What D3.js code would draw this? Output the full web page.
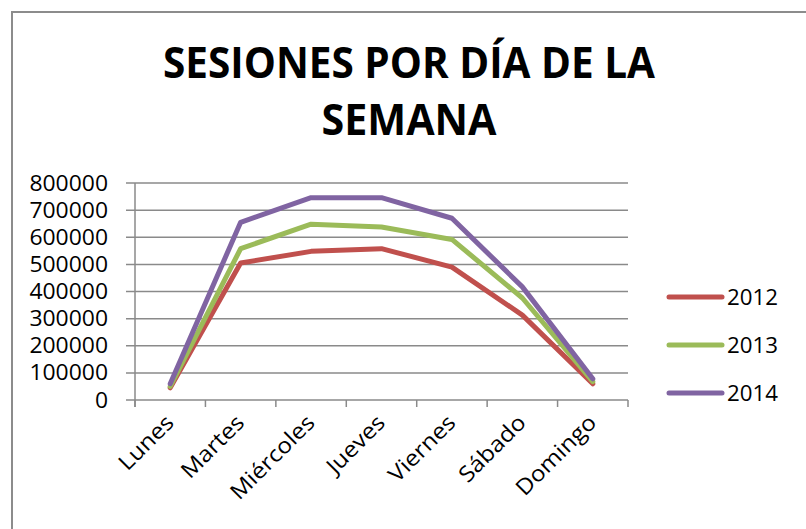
<!DOCTYPE html>
<html>
<head>
<meta charset="utf-8">
<script src="https://cdn.jsdelivr.net/npm/d3@7"></script>
<style>
  body { margin: 0; background: #fff; }
  svg { display: block; font-family: "Open Sans", sans-serif; }
</style>
</head>
<body>
<svg id="chart" width="806" height="529"></svg>
<script>
// Daten
const dias = ['Lunes', 'Martes', 'Miércoles', 'Jueves', 'Viernes', 'Sábado', 'Domingo'];
const anios = ['2012', '2013', '2014'];
const sesiones2012 = [45000, 505000, 548000, 558000, 490000, 313000, 60000];
const sesiones2013 = [50000, 558000, 648000, 638000, 592000, 376000, 68000];
const sesiones2014 = [60000, 655000, 746000, 746000, 670000, 417000, 78000];
const yTicks = [0, 100000, 200000, 300000, 400000, 500000, 600000, 700000, 800000];
const colores = ['#C0504D', '#9BBB59', '#8064A2'];

const series = [sesiones2012, sesiones2013, sesiones2014];

const svg = d3.select('#chart');
const plot = { left: 135, right: 628, top: 183, bottom: 400 };
const gridColor = '#8a8a8a';

// Rahmen
svg.append('path')
  .attr('d', 'M12,540 L12,12 L820,12')
  .attr('fill', 'none')
  .attr('stroke', '#8c8c8c')
  .attr('stroke-width', 2);

// Titel
const title = svg.append('g').attr('font-weight', 'bold').attr('fill', '#000')
  .attr('text-anchor', 'middle').attr('font-size', 43);
title.append('text').attr('x', 409).attr('y', 78)
  .attr('textLength', 492).attr('lengthAdjust', 'spacingAndGlyphs')
  .text('SESIONES POR DÍA DE LA');
title.append('text').attr('x', 409).attr('y', 135)
  .attr('textLength', 175).attr('lengthAdjust', 'spacingAndGlyphs')
  .text('SEMANA');

const x = d3.scaleBand().domain(dias).range([plot.left, plot.right]).padding(0);
const y = d3.scaleLinear().domain([0, 800000]).range([plot.bottom, plot.top]);

// Gitter + y-Beschriftung
svg.append('g').selectAll('line').data(yTicks).join('line')
  .attr('x1', plot.left - 9).attr('x2', plot.right)
  .attr('y1', d => y(d)).attr('y2', d => y(d))
  .attr('stroke', gridColor).attr('stroke-width', 1.5);

svg.append('g').selectAll('text').data(yTicks).join('text')
  .attr('x', 108).attr('y', d => y(d) + 7.5)
  .attr('text-anchor', 'end').attr('font-size', 21)
  .attr('textLength', d => String(d).length * 13.1).attr('lengthAdjust', 'spacingAndGlyphs')
  .text(d => d);

// Achsen
svg.append('line')
  .attr('x1', plot.left).attr('x2', plot.left)
  .attr('y1', plot.top).attr('y2', plot.bottom + 7)
  .attr('stroke', gridColor).attr('stroke-width', 1.5);

const xTickPos = dias.map(d => x(d)).concat([plot.right]);
svg.append('g').selectAll('line').data(xTickPos).join('line')
  .attr('x1', d => d).attr('x2', d => d)
  .attr('y1', plot.bottom).attr('y2', plot.bottom + 7)
  .attr('stroke', gridColor).attr('stroke-width', 1.5);

svg.append('g').selectAll('text').data(dias).join('text')
  .attr('transform', d => `translate(${x(d) + x.bandwidth() / 2 + 5},${plot.bottom + 24}) rotate(-45)`)
  .attr('text-anchor', 'end').attr('font-size', 22)
  .text(d => d)
  .each(function () {
    const len = this.getComputedTextLength();
    d3.select(this).attr('textLength', len * 1.1).attr('lengthAdjust', 'spacingAndGlyphs');
  });

// Linien
const line = d3.line()
  .x((d, i) => x(dias[i]) + x.bandwidth() / 2)
  .y(d => y(d));

svg.append('g').selectAll('path').data(series).join('path')
  .attr('d', line)
  .attr('fill', 'none')
  .attr('stroke', (d, i) => colores[i])
  .attr('stroke-width', 5)
  .attr('stroke-linejoin', 'round')
  .attr('stroke-linecap', 'round');

// Legende
const legend = svg.append('g').selectAll('g').data(anios).join('g')
  .attr('transform', (d, i) => `translate(0,${297 + i * 48})`);
legend.append('line')
  .attr('x1', 669).attr('x2', 722).attr('y1', 0).attr('y2', 0)
  .attr('stroke', (d, i) => colores[i]).attr('stroke-width', 5)
  .attr('stroke-linecap', 'round');
legend.append('text')
  .attr('x', 727).attr('y', 8).attr('font-size', 21)
  .attr('textLength', 51).attr('lengthAdjust', 'spacingAndGlyphs')
  .text(d => d);
</script>
</body>
</html>
